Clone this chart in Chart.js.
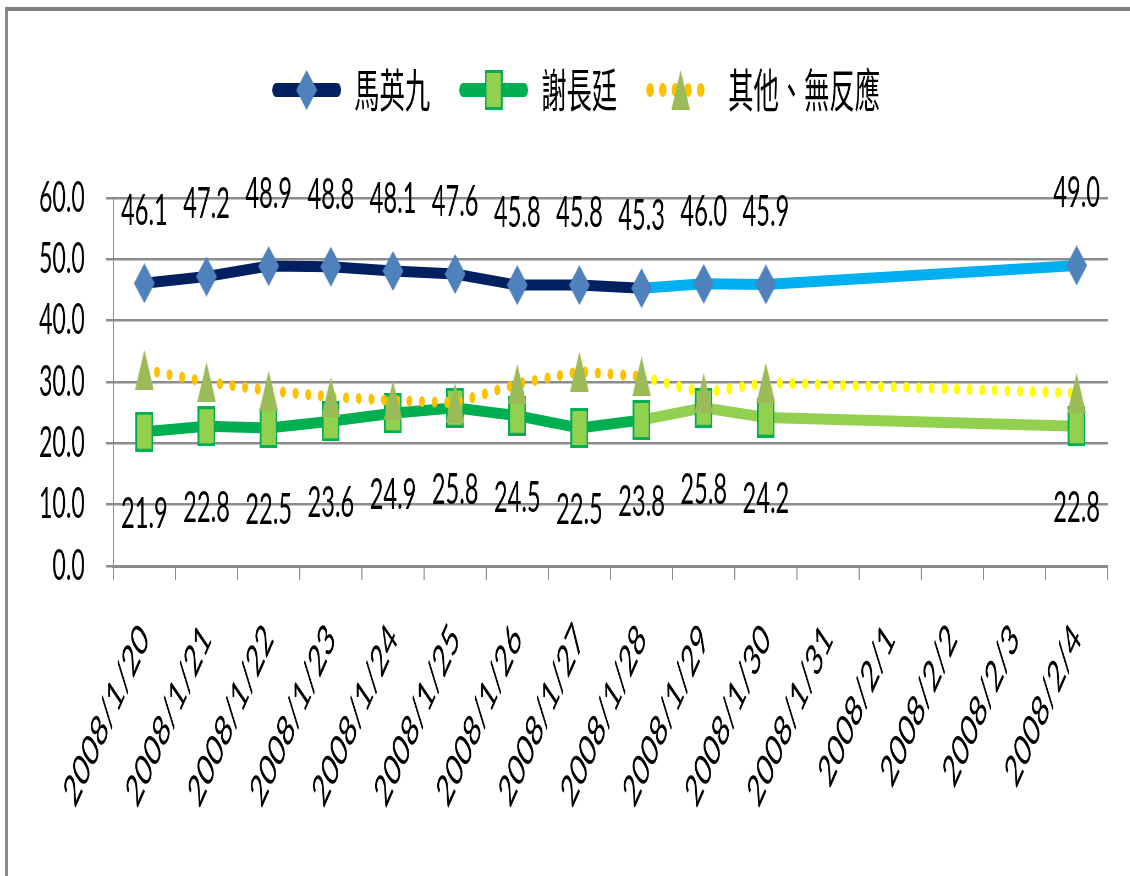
<!DOCTYPE html>
<html>
<head>
<meta charset="utf-8">
<script src="https://cdn.jsdelivr.net/npm/chart.js@4.4.0/dist/chart.umd.min.js"></script>
<style>
  html, body { margin: 0; padding: 0; background: #fff; overflow: hidden; }
  /* grey frame on top and left, like the cropped Excel screenshot */
  #frame { position: absolute; left: 5px; top: 7px; width: 1140px; height: 880px;
           border-top: 4px solid #808080; border-left: 3px solid #8a8a8a; }
  /* the chart is drawn wide and squeezed sideways, the way the picture is */
  #wrap { position: absolute; left: 0; top: 0; width: 2054px; height: 876px;
          transform: scaleX(0.55); transform-origin: 0 0; }
</style>
</head>
<body>
<div id="frame"></div>
<div id="wrap"><canvas id="poll" width="2054" height="876"></canvas></div>
<script>
// categories
var dates = ["2008/1/20", "2008/1/21", "2008/1/22", "2008/1/23", "2008/1/24", "2008/1/25",
             "2008/1/26", "2008/1/27", "2008/1/28", "2008/1/29", "2008/1/30", "2008/1/31",
             "2008/2/1", "2008/2/2", "2008/2/3", "2008/2/4"];

// series values (no poll from 1/31 to 2/3)
var ma    = [46.1, 47.2, 48.9, 48.8, 48.1, 47.6, 45.8, 45.8, 45.3, 46.0, 45.9, null, null, null, null, 49.0];
var hsieh = [21.9, 22.8, 22.5, 23.6, 24.9, 25.8, 24.5, 22.5, 23.8, 25.8, 24.2, null, null, null, null, 22.8];
var other = [32.0, 30.0, 28.6, 27.6, 27.0, 26.6, 29.7, 31.7, 30.9, 28.2, 29.9, null, null, null, null, 28.2];

var names = ["馬英九", "謝長廷", "其他、無反應"];

// y axis ticks
var yTicks = [0, 10, 20, 30, 40, 50, 60];

// from this point on the lines switch to the lighter colour
var switchAt = 8;

// marker pictures
function makeMarker(w, h, draw) {
    var c = document.createElement('canvas');
    c.width = w;
    c.height = h;
    draw(c.getContext('2d'), w, h);
    return c;
}

var diamond = makeMarker(38, 40, function (g, w, h) {
    g.fillStyle = '#4F81BD';
    g.beginPath();
    g.moveTo(w / 2, 0);
    g.lineTo(w, h / 2);
    g.lineTo(w / 2, h);
    g.lineTo(0, h / 2);
    g.closePath();
    g.fill();
});

var square = makeMarker(32, 40, function (g, w, h) {
    g.fillStyle = '#00B050';
    g.fillRect(0, 0, w, h);
    g.fillStyle = '#92D050';
    g.fillRect(3, 3, w - 6, h - 6);
});

var triangle = makeMarker(34, 40, function (g, w, h) {
    g.fillStyle = '#9BBB59';
    g.beginPath();
    g.moveTo(w / 2, 0);
    g.lineTo(w, h);
    g.lineTo(0, h);
    g.closePath();
    g.fill();
});

// legend pictures: a piece of line with the marker on it
function legendIcon(color, dotted, marker) {
    return makeMarker(127, 44, function (g, w, h) {
        g.strokeStyle = color;
        g.lineWidth = 14;
        g.lineCap = 'round';
        if (dotted) g.setLineDash([0, 23]);
        g.beginPath();
        g.moveTo(8, h / 2);
        g.lineTo(w - 8, h / 2);
        g.stroke();
        g.drawImage(marker, (w - marker.width) / 2, (h - marker.height) / 2);
    });
}

var icons = [
    legendIcon('#002060', false, diamond),
    legendIcon('#00B050', false, square),
    legendIcon('#FFC000', true, triangle)
];

// value labels: 馬英九 above the points, 謝長廷 below
var valueLabels = {
    id: 'valueLabels',
    afterDatasetsDraw: function (chart) {
        var ctx = chart.ctx;
        ctx.save();
        ctx.font = '43px Lato';
        ctx.fillStyle = '#000';
        ctx.textAlign = 'center';
        ctx.textBaseline = 'middle';
        [[0, -72], [1, 82]].forEach(function (p) {
            var meta = chart.getDatasetMeta(p[0]);
            var values = chart.data.datasets[p[0]].data;
            meta.data.forEach(function (pt, j) {
                if (values[j] == null) return;
                ctx.fillText(values[j].toFixed(1), pt.x, pt.y + p[1]);
            });
        });
        ctx.restore();
    }
};

// extra room between legend and plot, and legend moved a little to the right
var legendSpace = {
    id: 'legendSpace',
    beforeLayout: function (chart) {
        var lg = chart.legend;
        if (lg && !lg.spaced) {
            var fit = lg.fit;
            lg.fit = function () {
                fit.call(this);
                this.height += 75;
            };
            lg.spaced = true;
        }
    },
    afterLayout: function (chart) {
        var lg = chart.legend;
        if (lg) {
            lg.left += 24;
            lg.right += 24;
        }
    }
};

function twoTone(dark, light) {
    return function (c) {
        return c.p0DataIndex >= switchAt ? light : dark;
    };
}

var ctx = document.getElementById('poll').getContext('2d');
var chart = new Chart(ctx, {
    type: 'line',
    data: {
        labels: dates,
        datasets: [{
            label: names[0],
            data: ma,
            borderColor: '#002060',
            borderWidth: 11,
            pointStyle: diamond,
            pointRadius: 20,
            spanGaps: true,
            order: 2,
            segment: { borderColor: twoTone('#002060', '#00B0F0') }
        }, {
            label: names[1],
            data: hsieh,
            borderColor: '#00B050',
            borderWidth: 11,
            pointStyle: square,
            pointRadius: 20,
            spanGaps: true,
            order: 1,
            segment: { borderColor: twoTone('#00B050', '#92D050') }
        }, {
            label: names[2],
            data: other,
            borderColor: '#FFC000',
            borderWidth: 11,
            borderDash: [0, 23],
            borderCapStyle: 'round',
            pointStyle: triangle,
            pointRadius: 20,
            spanGaps: true,
            order: 0,
            segment: { borderColor: twoTone('#FFC000', '#FFFF00') }
        }]
    },
    options: {
        responsive: false,
        animation: false,
        devicePixelRatio: 1,
        layout: {
            padding: { top: 15, left: 32, right: 40, bottom: 25 }
        },
        plugins: {
            tooltip: { enabled: false },
            legend: {
                position: 'top',
                labels: {
                    usePointStyle: true,
                    pointStyleWidth: 127,
                    padding: 52,
                    color: '#000',
                    font: { family: '"Noto Sans CJK TC"', size: 46 },
                    generateLabels: function (chart) {
                        return chart.data.datasets.map(function (ds, i) {
                            return {
                                text: ds.label,
                                pointStyle: icons[i],
                                fillStyle: 'transparent',
                                strokeStyle: 'transparent',
                                lineWidth: 0,
                                hidden: false,
                                datasetIndex: i,
                                fontColor: '#000'
                            };
                        });
                    }
                }
            }
        },
        scales: {
            x: {
                offset: true,
                grid: {
                    offset: true,
                    drawOnChartArea: false,
                    tickLength: 14,
                    color: '#8c8c8c',
                    lineWidth: 2
                },
                border: { color: '#8c8c8c', width: 3 },
                ticks: {
                    autoSkip: false,
                    minRotation: 51,
                    maxRotation: 51,
                    padding: 34,
                    color: '#000',
                    font: { family: 'Lato', size: 44 }
                }
            },
            y: {
                min: yTicks[0],
                max: yTicks[yTicks.length - 1],
                afterBuildTicks: function (axis) {
                    axis.ticks = yTicks.map(function (v) { return { value: v }; });
                },
                grid: {
                    color: '#8c8c8c',
                    lineWidth: 2.5,
                    tickLength: 13
                },
                border: { color: '#8c8c8c', width: 2 },
                ticks: {
                    autoSkip: false,
                    padding: 39,
                    color: '#000',
                    font: { family: 'Lato', size: 42 },
                    callback: function (v) { return v.toFixed(1); }
                }
            }
        }
    },
    plugins: [valueLabels, legendSpace]
});
</script>
</body>
</html>
